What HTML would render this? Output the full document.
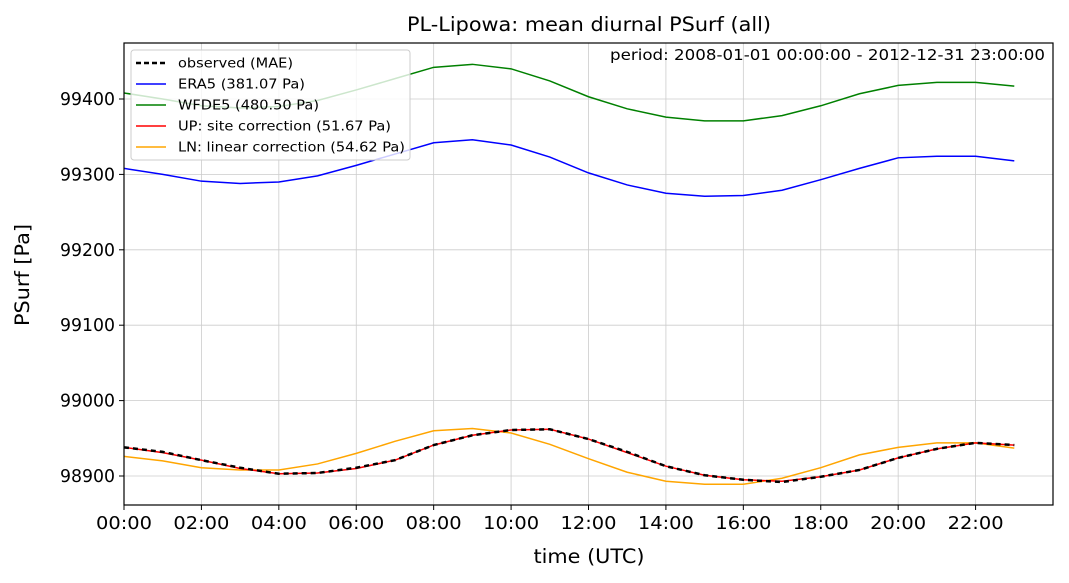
<!DOCTYPE html>
<html><head><meta charset="utf-8"><style>
body{margin:0;background:#fff}
svg{display:block;font-family:"DejaVu Sans","Liberation Sans",sans-serif}
</style></head><body>
<svg id="chart" width="1069" height="583"></svg>
<script>
const hours=[0,1,2,3,4,5,6,7,8,9,10,11,12,13,14,15,16,17,18,19,20,21,22,23];
const era5=[99308,99300,99291,99288,99290,99298,99312,99327,99342,99346,99339,99323,99302,99286,99275,99271,99272,99279,99293,99308,99322,99324,99324,99318];
const wfde5=[99408,99400,99391,99388,99390,99398,99412,99427,99442,99446,99440,99424,99403,99387,99376,99371,99371,99378,99391,99407,99418,99422,99422,99417];
const observed=[98938,98932,98921,98911,98903,98904,98911,98921,98941,98954,98961,98962,98949,98932,98913,98901,98895,98892,98899,98908,98924,98936,98944,98941];
const siteCorr=[98938,98931,98921,98910,98903,98904,98910,98921,98941,98954,98961,98962,98949,98931,98913,98901,98895,98893,98899,98908,98924,98936,98944,98941];
const linCorr=[98926,98920,98911,98908,98908,98916,98930,98946,98960,98963,98957,98942,98923,98905,98893,98889,98889,98897,98911,98928,98938,98944,98944,98937];
const xTicks=[0,2,4,6,8,10,12,14,16,18,20,22];
const xTickLabels=["00:00","02:00","04:00","06:00","08:00","10:00","12:00","14:00","16:00","18:00","20:00","22:00"];
const yTicks=[98900,99000,99100,99200,99300,99400];

const L=124,R=1053,T=43,B=505;
const x=h=>L+(h-0)/24*(R-L);
const yPx=v=>476-(v-98900)*0.754;
const svg=document.getElementById('chart');
const NS='http://www.w3.org/2000/svg';
function mk(tag,attrs,parent){const e=document.createElementNS(NS,tag);for(const k in attrs)e.setAttribute(k,attrs[k]);(parent||svg).appendChild(e);return e;}

xTicks.forEach((h,i)=>{
 const g=mk('line',{x1:x(h),x2:x(h),y1:T,y2:B,stroke:'#cccccc','stroke-width':0.8});
 
 
 mk('line',{x1:x(h),x2:x(h),y1:B,y2:B+5,stroke:'#000','stroke-width':1});
 const tx=mk('text',{x:x(h),y:B+24,'text-anchor':'middle','font-size':17.5,fill:'#000',textLength:56,lengthAdjust:'spacingAndGlyphs'});
 tx.textContent=xTickLabels[i];
 
 
});
yTicks.forEach(v=>{
 const g=mk('line',{x1:L,x2:R,y1:yPx(v),y2:yPx(v),stroke:'#cccccc','stroke-width':0.8});
 
 
 mk('line',{x1:L-5,x2:L,y1:yPx(v),y2:yPx(v),stroke:'#000','stroke-width':1});
 const tx=mk('text',{x:L-9,y:yPx(v)+6,'text-anchor':'end','font-size':17.5,fill:'#000',textLength:55,lengthAdjust:'spacingAndGlyphs'});
 tx.textContent=v;
 
 
});

function series(vals,color,name,dash,w){
 const p=mk('polyline',{points:vals.map((v,i)=>x(hours[i])+','+yPx(v)).join(' '),fill:'none',stroke:color,'stroke-width':w||1.5});
 if(dash)p.setAttribute('stroke-dasharray',dash);
 
 
}
series(era5,'#0000ff','era5-line');
series(wfde5,'#008000','wfde5-line');
series(linCorr,'#ffa500','ln-linear-correction-line');
series(siteCorr,'#ff0000','up-site-correction-line');
series(observed,'#000000','observed-line','5,4',2.5);

const frame=mk('rect',{x:L,y:T,width:R-L,height:B-T,fill:'none',stroke:'#000','stroke-width':1.2});



const lg=mk('g',{});


mk('rect',{x:131,y:50,width:279,height:110,rx:3,fill:'#ffffff','fill-opacity':0.8,stroke:'#cccccc'},lg);
const entries=[['observed (MAE)','#000','5,3',2.5,115],['ERA5 (381.07 Pa)','#0000ff',null,1.5,127],['WFDE5 (480.50 Pa)','#008000',null,1.5,141],['UP: site correction (51.67 Pa)','#ff0000',null,1.5,213],['LN: linear correction (54.62 Pa)','#ffa500',null,1.5,227]];
entries.forEach((e,i)=>{
 const yy=63+i*21;
 const ln=mk('line',{x1:136,x2:166,y1:yy,y2:yy,stroke:e[1],'stroke-width':e[3]},lg);
 if(e[2])ln.setAttribute('stroke-dasharray',e[2]);
 const t=mk('text',{x:178,y:yy+4.5,'font-size':13.5,fill:'#000',textLength:e[4],lengthAdjust:'spacingAndGlyphs'},lg);
 t.textContent=e[0];
 
 
});

const title=mk('text',{x:589,y:31,'text-anchor':'middle','font-size':19.5,fill:'#000',textLength:364,lengthAdjust:'spacingAndGlyphs'});
title.textContent='PL-Lipowa: mean diurnal PSurf (all)';


const per=mk('text',{x:1045,y:60,'text-anchor':'end','font-size':15,fill:'#000',textLength:435,lengthAdjust:'spacingAndGlyphs'});
per.textContent='period: 2008-01-01 00:00:00 - 2012-12-31 23:00:00';


const xt=mk('text',{x:589,y:563,'text-anchor':'middle','font-size':19.5,fill:'#000',textLength:111,lengthAdjust:'spacingAndGlyphs'});
xt.textContent='time (UTC)';


const yt=mk('text',{x:29,y:275,'text-anchor':'middle','font-size':19.5,fill:'#000',transform:'rotate(-90 29 275)',textLength:102,lengthAdjust:'spacingAndGlyphs'});
yt.textContent='PSurf [Pa]';


</script>
</body></html>
